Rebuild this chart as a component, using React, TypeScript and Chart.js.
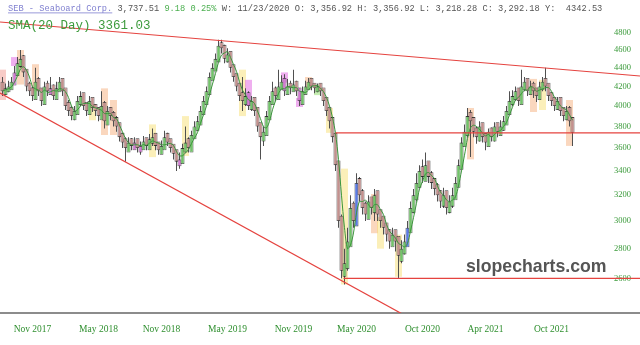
import React, { useEffect, useRef } from 'react';
import { Chart, registerables } from 'chart.js';

Chart.register(...registerables);

// ---- data (weekly bars) ----
const opens = [
  4250,4110,4140,4160,4210,4310,4410,4540,4390,4240,
  4190,4060,4290,4190,4010,4240,4110,4220,4060,4140,
  4290,4190,4040,3990,3860,3910,4010,4140,4040,3910,
  4090,4020,3990,3860,4040,3810,3990,3940,3890,3840,
  3740,3690,3560,3690,3580,3690,3560,3580,3700,3580,
  3640,3740,3660,3540,3580,3740,3690,3640,3590,3440,
  3460,3560,3690,3560,3680,3760,3810,3910,4010,4110,
  4260,4360,4460,4690,4660,4460,4590,4440,4340,4240,
  4140,4010,4140,3960,4090,3990,3840,3660,3710,3860,
  4010,4190,4060,4160,4290,4110,4240,4140,4260,4190,
  4010,4110,4160,4290,4240,4140,4240,4190,4090,3990,
  3890,3740,3490,3040,2610,2660,2810,3140,2960,3340,
  3240,3140,3010,3190,3060,3240,3090,3040,2990,2940,
  2810,2940,2890,2710,2760,2810,2910,3060,3160,3260,
  3440,3310,3490,3390,3340,3290,3240,3110,3240,3060,
  3110,3160,3260,3410,3610,3710,3940,3890,3790,3660,
  3840,3740,3610,3790,3660,3840,3710,3760,3810,3910,
  4010,4060,4190,4010,4160,4290,4110,4240,4190,4060,
  4160,4290,4240,4140,4090,3960,4090,3990,3860,3990,
  3890
];
const highs = [
  4300,4230,4260,4300,4420,4520,4600,4540,4380,4250,
  4200,4400,4300,4180,4250,4260,4300,4220,4250,4300,
  4280,4170,4060,4000,4000,4100,4150,4120,4030,4100,
  4080,4020,3990,4150,4050,4000,3990,3950,3900,3830,
  3740,3700,3700,3690,3700,3680,3660,3710,3690,3730,
  3780,3720,3650,3670,3760,3740,3680,3630,3580,3560,
  3640,3800,3700,3760,3850,3900,4000,4100,4200,4350,
  4450,4560,4720,4720,4660,4620,4580,4430,4330,4230,
  4300,4180,4150,4100,4080,3980,3830,3800,3950,4100,
  4250,4200,4380,4320,4330,4280,4260,4380,4260,4180,
  4200,4260,4290,4280,4230,4230,4230,4170,4080,3980,
  3880,3720,3480,3050,2800,2950,3200,3150,3380,3350,
  3250,3150,3200,3180,3250,3220,3080,3030,2980,2940,
  2950,2930,2880,2860,2900,3000,3150,3250,3380,3450,
  3500,3560,3480,3400,3340,3300,3240,3260,3230,3200,
  3260,3350,3500,3700,3820,3980,3960,3880,3800,3850,
  3830,3740,3780,3790,3840,3830,3860,3900,4000,4150,
  4160,4200,4180,4380,4300,4280,4260,4250,4180,4250,
  4300,4400,4230,4140,4080,4090,4070,3980,4000,4000,
  3870
];
const lows = [
  4100,4110,4140,4170,4230,4320,4400,4300,4150,4100,
  4050,4080,4100,4000,4020,4100,4120,4060,4080,4150,
  4100,3960,3900,3860,3860,3920,4000,3960,3900,3930,
  3940,3900,3850,3880,3780,3820,3860,3800,3750,3660,
  3600,3480,3580,3580,3590,3560,3540,3590,3580,3600,
  3620,3580,3540,3550,3600,3620,3560,3500,3400,3420,
  3480,3560,3560,3580,3700,3760,3820,3920,4020,4120,
  4270,4370,4480,4560,4450,4460,4350,4250,4150,4050,
  3950,4000,3960,3950,3900,3750,3500,3620,3720,3880,
  4020,4050,4080,4170,4100,4120,4120,4150,4100,4000,
  4020,4120,4170,4160,4130,4140,4100,4000,3900,3780,
  3650,3400,2950,2600,2560,2650,2820,2950,2980,3150,
  3050,3000,3020,3050,3000,3000,2950,2900,2850,2800,
  2820,2780,2600,2700,2760,2820,2920,3060,3150,3260,
  3300,3320,3300,3250,3200,3150,3100,3100,3050,3060,
  3100,3170,3280,3420,3620,3700,3520,3700,3640,3660,
  3650,3580,3620,3660,3660,3700,3720,3760,3820,3920,
  4000,4050,4000,4020,4150,4100,4120,4080,4040,4080,
  4150,4150,4050,4000,3950,3960,3900,3850,3860,3800,
  3620
];
const closes = [
  4150,4180,4200,4250,4350,4450,4500,4350,4200,4150,
  4100,4250,4150,4050,4200,4150,4180,4100,4180,4250,
  4150,4000,3950,3900,3950,4050,4100,4000,3950,4050,
  3980,3950,3900,4000,3850,3950,3900,3850,3800,3700,
  3650,3600,3650,3620,3650,3600,3620,3660,3620,3680,
  3700,3620,3580,3620,3700,3650,3600,3550,3480,3500,
  3600,3650,3600,3720,3800,3850,3950,4050,4150,4300,
  4400,4500,4650,4620,4500,4550,4400,4300,4200,4100,
  4050,4100,4000,4050,3950,3800,3700,3750,3900,4050,
  4150,4100,4200,4250,4150,4200,4180,4220,4150,4050,
  4150,4200,4250,4200,4180,4200,4150,4050,3950,3850,
  3700,3450,3000,2650,2700,2850,3100,3000,3300,3200,
  3100,3050,3150,3100,3200,3050,3000,2950,2900,2850,
  2900,2850,2750,2800,2850,2950,3100,3200,3300,3400,
  3350,3450,3350,3300,3250,3200,3150,3200,3100,3150,
  3200,3300,3450,3650,3750,3900,3850,3750,3700,3800,
  3700,3650,3750,3700,3800,3750,3800,3850,3950,4050,
  4100,4150,4050,4200,4250,4150,4200,4150,4100,4200,
  4250,4200,4100,4050,4000,4050,3950,3900,3950,3850,
  3740
];
const smaValues = [
  4150,4165,4177,4195,4245,4312,4387,4412,4375,4300,
  4200,4175,4162,4137,4162,4137,4145,4157,4152,4177,
  4170,4145,4087,4000,3950,3962,4000,4025,4025,4025,
  3995,3982,3970,3957,3925,3925,3925,3887,3875,3812,
  3750,3687,3650,3630,3630,3630,3622,3632,3625,3645,
  3665,3655,3645,3630,3630,3637,3642,3625,3570,3532,
  3532,3557,3587,3642,3692,3742,3830,3912,4000,4112,
  4225,4337,4462,4542,4567,4580,4517,4437,4362,4250,
  4162,4112,4062,4050,4025,3950,3875,3800,3787,3850,
  3962,4050,4125,4175,4175,4200,4195,4187,4187,4150,
  4142,4137,4162,4200,4207,4207,4182,4145,4087,4000,
  3887,3737,3500,3200,2950,2800,2825,2912,3062,3150,
  3150,3162,3125,3100,3125,3125,3087,3050,2975,2925,
  2900,2875,2837,2825,2812,2837,2925,3025,3137,3250,
  3312,3375,3387,3362,3337,3275,3225,3200,3162,3150,
  3162,3187,3275,3400,3537,3687,3787,3812,3800,3775,
  3737,3712,3725,3700,3725,3750,3762,3800,3837,3912,
  3987,4062,4087,4125,4162,4162,4200,4187,4150,4162,
  4175,4187,4187,4150,4087,4050,4000,3975,3962,3912,
  3860
];

const purpleBars = [4, 16, 44, 46, 59, 82, 94, 99];
const blueBars = [118, 135];

// [bar index, low price, high price, colour kind]
const highlights: [number, number, number, string][] = [
  [0, 4060, 4380, 'salmon'],
  [4, 4420, 4520, 'magenta'],
  [6, 4220, 4600, 'orange'],
  [11, 4150, 4440, 'orange'],
  [30, 3860, 4020, 'yellow'],
  [34, 3720, 4180, 'orange'],
  [37, 3720, 4060, 'orange'],
  [50, 3520, 3820, 'yellow'],
  [61, 3530, 3900, 'yellow'],
  [80, 3900, 4380, 'yellow'],
  [82, 4000, 4270, 'magenta'],
  [94, 4240, 4350, 'magenta'],
  [99, 3990, 4080, 'magenta'],
  [102, 4170, 4300, 'orange'],
  [105, 4110, 4220, 'green'],
  [109, 3740, 3980, 'yellow'],
  [114, 2560, 3420, 'yellow'],
  [124, 2910, 3210, 'orange'],
  [126, 2800, 3030, 'yellow'],
  [132, 2610, 2900, 'yellow'],
  [156, 3500, 3980, 'orange'],
  [177, 3940, 4280, 'orange'],
  [180, 3960, 4270, 'yellow'],
  [189, 3620, 4060, 'orange'],
];

const xTickIndex = [10, 32, 53, 75, 97, 118, 140, 161, 183];
const xTickLabels = ['Nov 2017', 'May 2018', 'Nov 2018', 'May 2019', 'Nov 2019', 'May 2020', 'Oct 2020', 'Apr 2021', 'Oct 2021'];
const yTickValues = [2600, 2800, 3000, 3200, 3400, 3600, 3800, 4000, 4200, 4400, 4600, 4800];

const X_MIN = -0.833;
const X_MAX = 212.5;
const Y_MIN = 2384;
const Y_MAX = 5213;

// drawn trend lines: [bar index, price] end points
const topTrend: [number, number][] = [[X_MIN, 4934], [X_MAX, 4311]];
const lowerTrend: [number, number][] = [[X_MIN, 4131], [140, 2313]];
const resistLine: [number, number][] = [[111, 3740], [X_MAX, 3740]];
const supportLine: [number, number][] = [[113.7, 2600], [X_MAX, 2600]];

const headerParts = [
  { text: 'SEB - Seaboard Corp.', color: '#8080d0', underline: true },
  { text: ' 3,737.51', color: '#555555', underline: false },
  { text: ' 9.18 0.25%', color: '#4caf50', underline: false },
  { text: ' W: 11/23/2020 O: 3,356.92 H: 3,356.92 L: 3,218.28 C: 3,292.18 Y:  4342.53', color: '#555555', underline: false },
];
const smaLabel = 'SMA(20 Day) 3361.03';
const watermark = 'slopecharts.com';

const hlColors: Record<string, string> = {
  orange: 'rgba(244,160,100,0.42)',
  yellow: 'rgba(247,220,100,0.45)',
  salmon: 'rgba(240,140,130,0.45)',
  magenta: 'rgba(225,110,225,0.55)',
  green: 'rgba(140,220,100,0.5)',
};

const textPlugin = {
  id: 'texts',
  afterDraw(chart: any) {
    const ctx = chart.ctx as CanvasRenderingContext2D;
    ctx.save();
    ctx.textAlign = 'left';
    ctx.textBaseline = 'alphabetic';
    ctx.font = '8.7px "Liberation Mono", monospace';
    let x = 8;
    for (const p of headerParts) {
      ctx.fillStyle = p.color;
      ctx.fillText(p.text, x, 11);
      const w = ctx.measureText(p.text).width;
      if (p.underline) ctx.fillRect(x, 12.5, w, 0.8);
      x += w;
    }
    ctx.font = '12.5px "Liberation Mono", monospace';
    ctx.fillStyle = '#3d9b3d';
    ctx.fillText(smaLabel, 8, 29);
    ctx.font = 'bold 17.7px "Liberation Sans", Arial, sans-serif';
    ctx.fillStyle = '#555555';
    ctx.fillText(watermark, 466, 272);
    ctx.restore();
  },
};

function lineDs(points: [number, number][], order: number) {
  return {
    type: 'line' as const,
    data: points.map(([x, y]) => ({ x, y })),
    borderColor: '#e5433f',
    borderWidth: 1.2,
    pointRadius: 0,
    order,
  };
}

export default function App() {
  const ref = useRef<HTMLCanvasElement | null>(null);

  useEffect(() => {
    if (!ref.current) return;
    const bodyColors = closes.map((c, i) => {
      if (purpleBars.includes(i)) return '#d37ad3';
      if (blueBars.includes(i)) return '#5b7be6';
      return c >= opens[i] ? '#72c46a' : '#c4918e';
    });
    const chart = new Chart(ref.current, {
      type: 'bar',
      data: {
        datasets: [
          lineDs(topTrend, 0),
          lineDs(lowerTrend, 0),
          lineDs(resistLine, 0),
          lineDs(supportLine, 0),
          {
            type: 'line',
            data: smaValues.map((v, i) => ({ x: i, y: v })),
            borderColor: '#3a953a',
            borderWidth: 1,
            pointRadius: 0,
            tension: 0.3,
            order: 1,
          },
          {
            type: 'bar',
            data: closes.map((c, i) => ({ x: i, y: [opens[i], c] })),
            backgroundColor: bodyColors,
            borderColor: 'rgba(40,40,40,0.9)',
            borderWidth: 0.8,
            borderSkipped: false,
            barThickness: 4,
            inflateAmount: 0,
            grouped: false,
            order: 2,
          },
          {
            type: 'bar',
            data: closes.map((_, i) => ({ x: i, y: [lows[i], highs[i]] })),
            backgroundColor: '#505050',
            barThickness: 1,
            inflateAmount: 0,
            grouped: false,
            order: 3,
          },
          {
            type: 'bar',
            data: highlights.map((h) => ({ x: h[0], y: [h[1], h[2]] })),
            backgroundColor: highlights.map((h) => hlColors[h[3]]),
            barThickness: 7,
            inflateAmount: 0,
            grouped: false,
            order: 4,
          },
        ] as any,
      },
      options: {
        animation: false,
        responsive: false,
        events: [],
        layout: { padding: 0 },
        plugins: { legend: { display: false }, tooltip: { enabled: false } },
        scales: {
          x: {
            type: 'linear',
            min: X_MIN,
            max: X_MAX,
            offset: false,
            grid: { display: false },
            border: { display: true, color: '#8c8c8c', width: 2 },
            afterBuildTicks: (s: any) => {
              s.ticks = xTickIndex.map((v) => ({ value: v }));
            },
            afterFit: (s: any) => {
              s.height = 32;
              s.paddingLeft = 0;
              s.paddingRight = 0;
            },
            ticks: {
              autoSkip: false,
              maxRotation: 0,
              padding: 3,
              color: '#2f8f2f',
              font: { family: '"Liberation Serif", serif', size: 9.5 },
              callback: (_v: any, i: number) => xTickLabels[i],
            },
          },
          y: {
            type: 'logarithmic',
            position: 'right',
            min: Y_MIN,
            max: Y_MAX,
            grid: { display: false },
            border: { display: false },
            afterBuildTicks: (s: any) => {
              s.ticks = yTickValues.map((v) => ({ value: v }));
            },
            afterFit: (s: any) => {
              s.width = 0;
              s.paddingTop = 0;
              s.paddingBottom = 0;
            },
            ticks: {
              autoSkip: false,
              mirror: true,
              padding: -9,
              color: '#3a9a3a',
              font: { family: '"Liberation Serif", serif', size: 8.5 },
              callback: (v: any) => String(v),
            },
          },
        },
      } as any,
      plugins: [textPlugin],
    });
    return () => chart.destroy();
  }, []);

  return (
    <div style={{ position: 'absolute', left: 0, top: 0, width: 640, height: 345 }}>
      <canvas ref={ref} width={640} height={345} style={{ display: 'block' }} />
    </div>
  );
}
